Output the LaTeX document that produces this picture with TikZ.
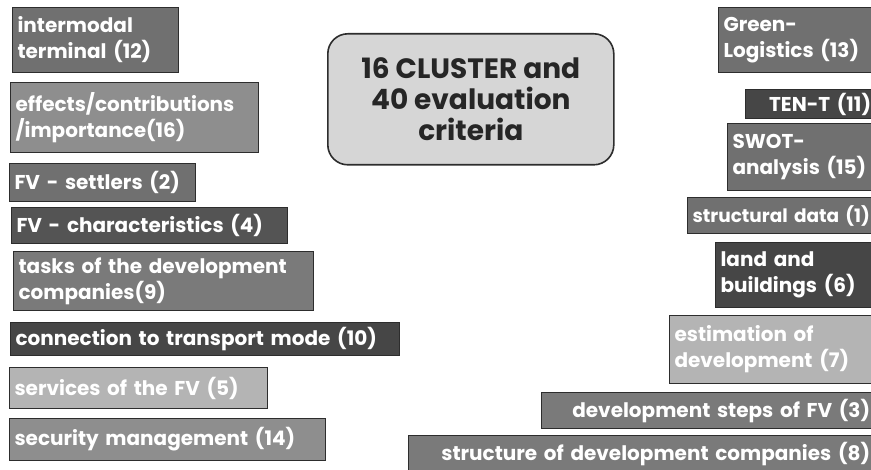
\documentclass[tikz,border=0pt]{standalone}
\usepackage{fontspec}
\setmainfont{Poppins}
\usepackage{xcolor}
\definecolor{clgrey}{RGB}{112,112,112}
\definecolor{cmgrey}{RGB}{142,142,142}
\definecolor{cdgrey}{RGB}{84,84,84}
\definecolor{cxgrey}{RGB}{70,70,70}
\definecolor{cwgrey}{RGB}{180,180,180}
\definecolor{cfgrey}{RGB}{122,122,122}
\definecolor{centrefill}{RGB}{214,214,214}
\definecolor{cframe}{RGB}{45,45,45}
\usetikzlibrary{positioning}

\tikzset{
  clusterbox/.style={draw=cframe, line width=1.1pt, anchor=north west, inner xsep=5pt, inner ysep=0pt,
    align=left, text=white, font=\bfseries\fontsize{20}{26}\selectfont},
  centrebox/.style={draw=cframe, fill=centrefill, line width=1.6pt, rounded corners=20pt, anchor=north west,
    align=center, text=black!85, font=\bfseries\fontsize{28}{31}\selectfont}
}

\begin{document}
\begin{tikzpicture}[x=1pt,y=-1pt]
  \useasboundingbox (0,0) rectangle (871,470);

  %% --- LEFT COLUMN ---
  \node[clusterbox, fill=clgrey, minimum width=166, minimum height=65, text width=156] (terminal) at (12,7)   {intermodal\\terminal (12)};
  \node[clusterbox, fill=cmgrey, minimum width=248, minimum height=70, text width=238] (effects)  at (10,82)  {effects/contributions\\/importance(16)};
  \node[clusterbox, fill=clgrey, minimum width=186, minimum height=38, text width=176] (settlers) at (9,163)  {FV - settlers (2)};
  \node[clusterbox, fill=cdgrey, minimum width=276, minimum height=36, text width=266] (charact)  at (11,207) {FV - characteristics (4)};
  \node[clusterbox, fill=cfgrey, minimum width=300, minimum height=59, text width=290] (tasks)    at (13,251) {tasks of the development\\companies(9)};
  \node[clusterbox, fill=cxgrey, minimum width=389, minimum height=33, text width=379] (mode)     at (10,322) {connection to transport mode (10)};
  \node[clusterbox, fill=cwgrey, minimum width=258, minimum height=41, text width=248] (services) at (9,367)  {services of the FV (5)};
  \node[clusterbox, fill=cmgrey, minimum width=316, minimum height=42, text width=306] (security) at (9,418)  {security management (14)};

  %% --- CENTRE ---
  \node[centrebox, minimum width=286, minimum height=131] (cluster) at (327,33) {16 CLUSTER and\\40 evaluation\\criteria};

  %% --- RIGHT COLUMN (cut at the page edge) ---
  \node[clusterbox, fill=clgrey, minimum width=160, minimum height=65, text width=150] (green)      at (718,7)   {Green-\\Logistics (13)};
  \node[clusterbox, fill=cxgrey, minimum width=133, minimum height=29, text width=118] (tent)       at (745,89)  {\hfill TEN-T (11)};
  \node[clusterbox, fill=clgrey, minimum width=151, minimum height=67, text width=141] (swot)       at (727,123) {SWOT-\\analysis (15)};
  \node[clusterbox, fill=clgrey, minimum width=191, minimum height=36, text width=181,
        inner xsep=4pt, font=\bfseries\fontsize{18.5}{26}\selectfont]                  (structural) at (687,197) {structural data (1)};
  \node[clusterbox, fill=cxgrey, minimum width=163, minimum height=65, text width=153] (land)       at (715,242) {land and\\buildings (6)};
  \node[clusterbox, fill=cwgrey, minimum width=209, minimum height=68, text width=199] (estimation) at (669,315) {estimation of\\development (7)};
  \node[clusterbox, fill=cfgrey, minimum width=337, minimum height=36, text width=320] (steps)      at (541,392) {\hfill development steps of FV (3)};
  \node[clusterbox, fill=cfgrey, minimum width=470, minimum height=36, text width=453] (companies)  at (408,435) {\hfill structure of development companies (8)};
\end{tikzpicture}
\end{document}
